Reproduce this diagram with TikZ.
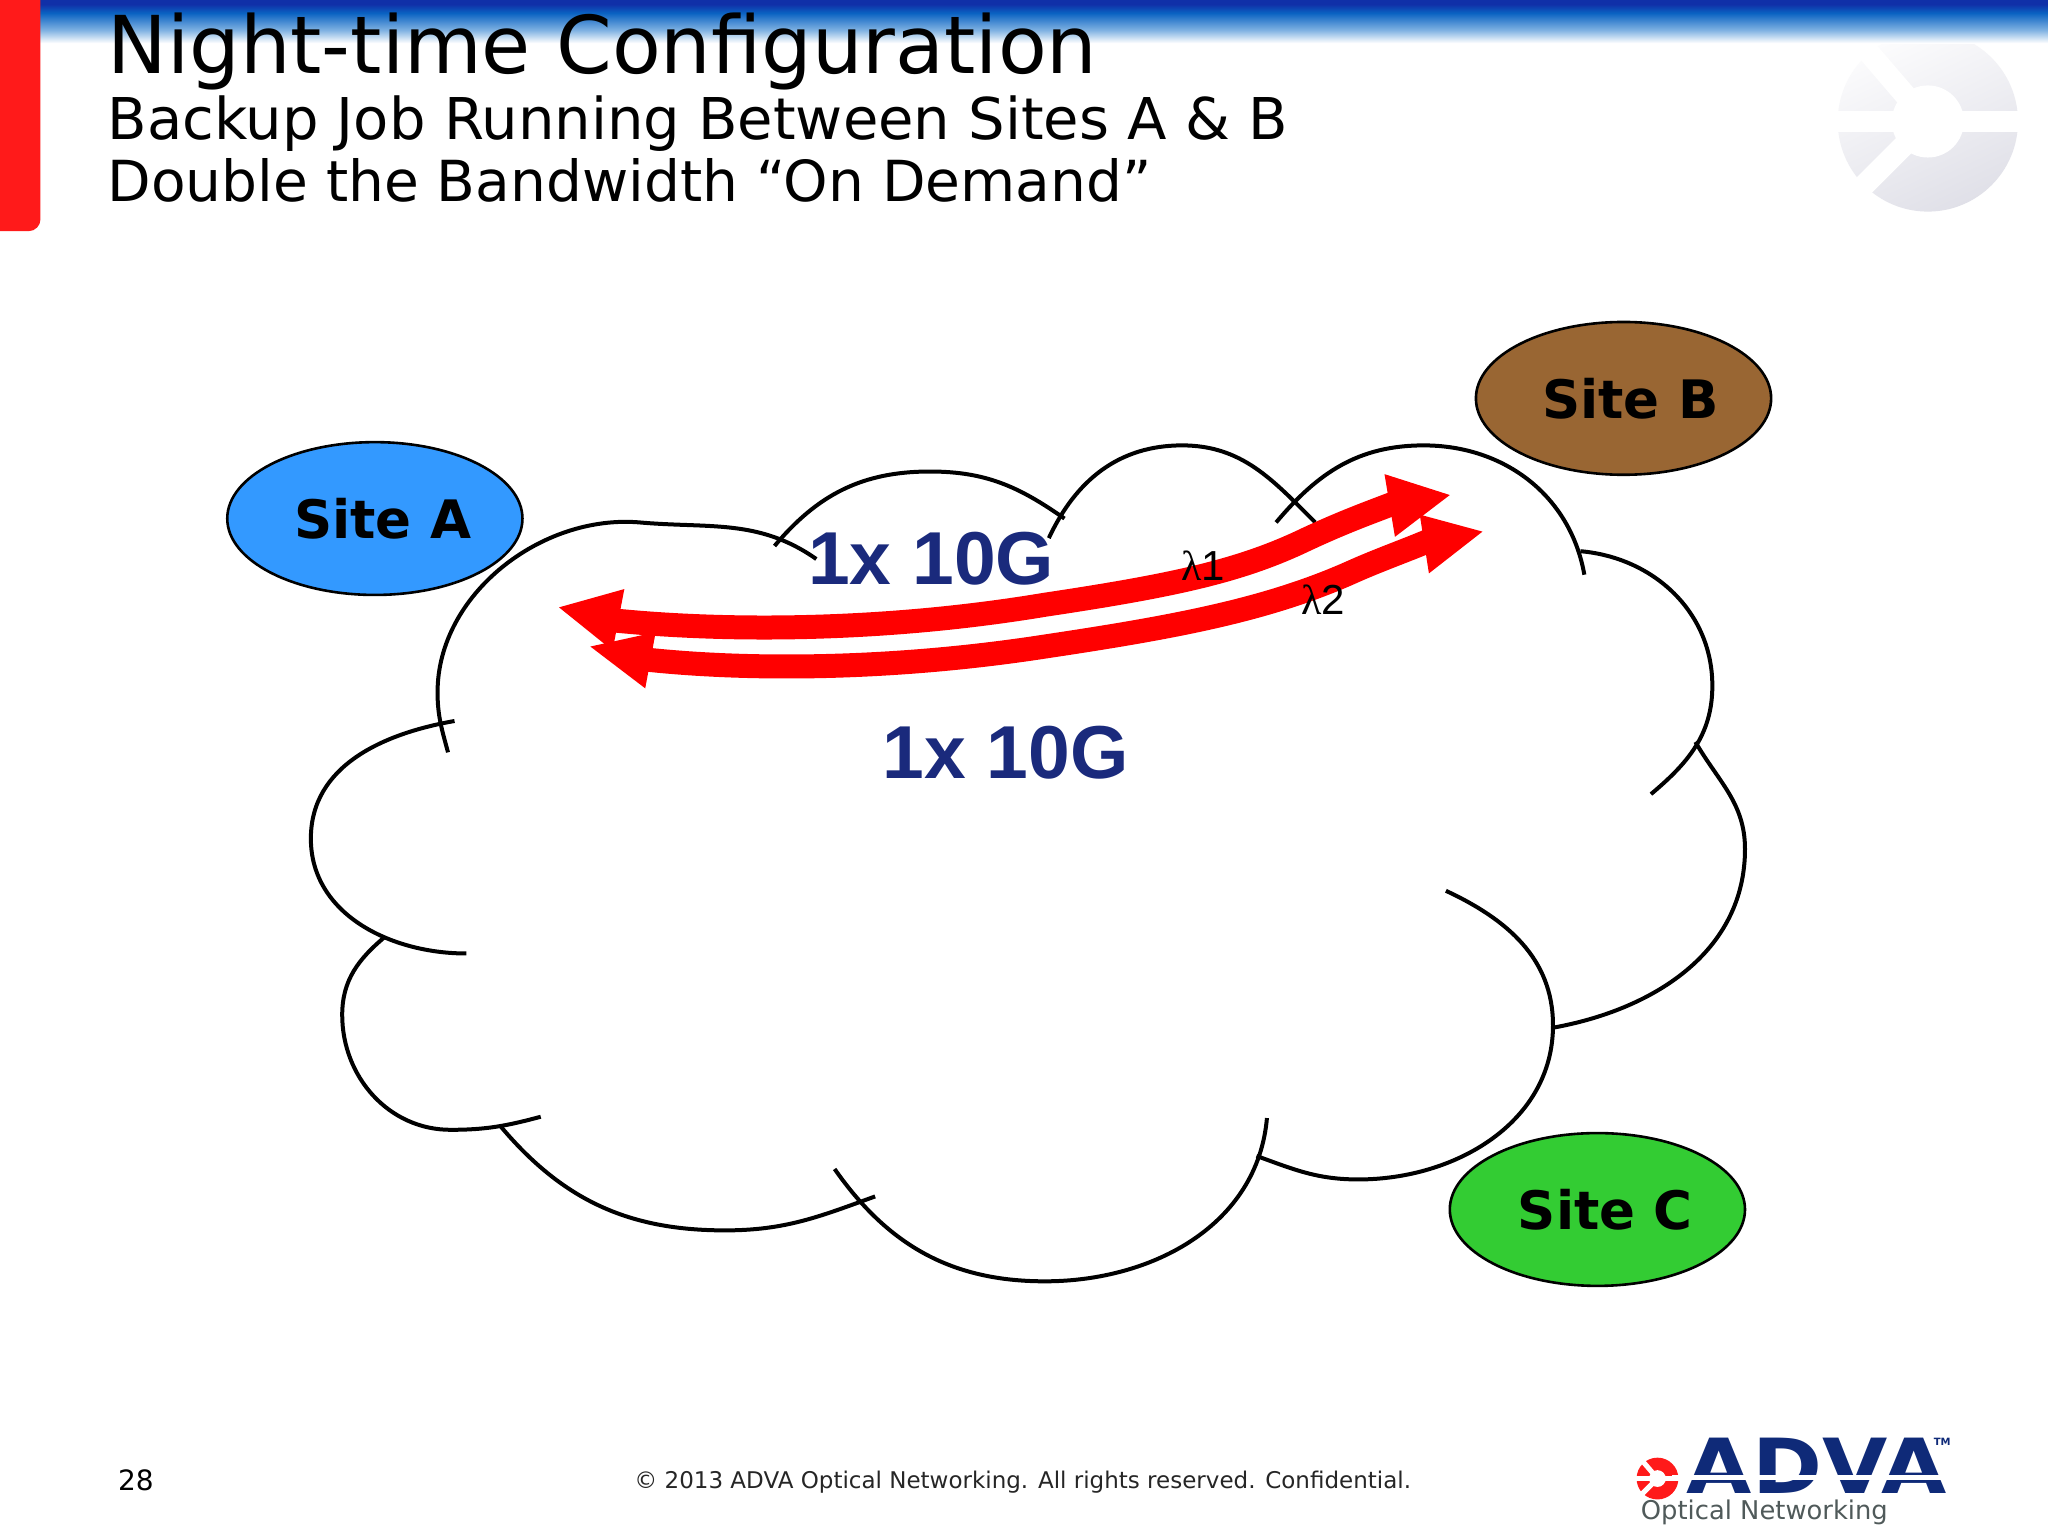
\documentclass[tikz,border=0pt]{standalone}
\usepackage{fontspec}
\setmainfont{DejaVu Sans}
\newfontfamily\lib{Liberation Sans}
\newfontfamily\libs{Liberation Serif}
\usetikzlibrary{shapes.geometric}
\definecolor{navy}{HTML}{1A2A7C}
\definecolor{logonavy}{HTML}{0F2A78}
\definecolor{tabred}{HTML}{FF1A1A}
\definecolor{siteA}{HTML}{3399FF}
\definecolor{siteB}{HTML}{996633}
\definecolor{siteC}{HTML}{33CC33}
\definecolor{bandA}{HTML}{1030A8}
\definecolor{bandB}{HTML}{0A62C2}
\definecolor{bandC}{HTML}{80B2E2}
\definecolor{wmarkA}{HTML}{FCFCFD}
\definecolor{wmarkB}{HTML}{E0E0E8}
\definecolor{optgray}{HTML}{505A5A}
\pgfdeclareverticalshading{bandshade}{100bp}{color(0bp)=(white); color(25bp)=(white); color(40bp)=(bandC); color(60bp)=(bandB); color(70bp)=(bandA); color(100bp)=(bandA)}
\tikzset{
  site/.style={ellipse,draw=black,line width=1.3pt,inner sep=0pt,minimum width=147.6pt,minimum height=76.4pt,font=\fontsize{26.5}{30}\selectfont\bfseries},
  cloud line/.style={draw=black,line width=2pt,line cap=butt},
  bigtext/.style={text=navy,font=\lib\fontsize{37.5}{40}\selectfont\bfseries,inner sep=0pt},
  shaft/.style={draw=red,line width=12pt},
  head/.style={fill=red},
  lambda/.style={inner sep=0pt,font=\fontsize{21}{23}\selectfont},
  titletext/.style={anchor=base west,inner sep=0pt,text=black},
}
\newcommand{\advaring}[4]{%
  \begin{scope}[shift={(#1,#2)},scale=#3]
    \path[#4] (0,0) circle (1);
    \draw[white,line width={#3*0.157pt}] (-1.05,0) -- (1.05,0);
    \draw[white,line width={#3*0.157pt}] (0,0) -- (-0.72,-0.84);
    \draw[white,line width={#3*0.157pt}] (0,0) -- (-0.82,0.82);
    \fill[white] (0,0) circle (0.40);
  \end{scope}}
\begin{document}
\begin{tikzpicture}[x=0.65306pt,y=-0.65306pt]
\useasboundingbox (0,0) rectangle (1568,1176);
\fill[white] (0,0) rectangle (1568,1176);
\advaring{1476}{93}{69}{shade,top color=wmarkA,bottom color=wmarkB,shading angle=25}
\shade[shading=bandshade] (0,0) rectangle (1568,33);
\fill[tabred,rounded corners=6pt] (-20,-20) rectangle (31,177);

\node[titletext,font=\fontsize{39.9}{42}\selectfont] (title) at (82,56.5) {Night-time Configuration};
\node[titletext,font=\fontsize{28.8}{30}\selectfont] (sub1) at (82,107) {Backup Job Running Between Sites A \& B};
\node[titletext,font=\fontsize{28.3}{30}\selectfont] (sub2) at (82,154) {Double the Bandwidth “On Demand”};

% cloud
\draw[cloud line] (343,576) to[out=105,in=270] (335,530) to[out=90,in=175,looseness=0.95] (490,400) to[out=-5,in=145] (625,428);
\draw[cloud line] (593,418) to[out=50,in=180] (712,361) to[out=0,in=145] (815,397);
\draw[cloud line] (803,412) to[out=65,in=180] (905,341) to[out=0,in=135] (1007,400);
\draw[cloud line] (977,400) to[out=50,in=180] (1090,341) to[out=0,in=100] (1213,440);
\draw[cloud line] (1210,422) to[out=-5,in=90] (1311,525) to[out=270,in=40] (1264,608);
\draw[cloud line] (1298,568) to[out=-60,in=90] (1336,650) to[out=270,in=10] (1188,787);
\draw[cloud line] (1107,682) to[out=-25,in=90] (1189,785) to[out=270,in=0] (1040,903) to[out=180,in=-20] (962,885);
\draw[cloud line] (970,856) to[out=265,in=0] (800,981) to[out=180,in=-55] (639,895);
\draw[cloud line] (670,916) to[out=200,in=0] (555,942) to[out=180,in=-50] (383,862);
\draw[cloud line] (414,855) to[out=195,in=0] (345,865) to[out=180,in=270] (262,777) to[out=90,in=220] (295,717);
\draw[cloud line] (357,730) to[out=180,in=270] (238,642) to[out=90,in=190] (348,552);

% sites
\node[site,fill=siteA] (siteA) at (287,397) {\hspace*{8pt}\raisebox{-0.7pt}{Site A}};
\node[site,fill=siteB] (siteB) at (1243,305) {\hspace*{7pt}\raisebox{-0.7pt}{Site B}};
\node[site,fill=siteC] (siteC) at (1223,926) {\hspace*{8pt}\raisebox{-0.7pt}{Site C}};

% wavelengths
\draw[shaft] (470,475) .. controls (560,484) and (680,483) .. (800,463) .. controls (900,448) and (950,437) .. (1000,413) .. controls (1030,399) and (1050,392) .. (1068,385);
\fill[head] (428,465) -- (478,451) -- (469,498) -- cycle;
\fill[head] (1110,379) -- (1060,363) -- (1068,411) -- cycle;
\draw[shaft] (495,505) .. controls (580,514) and (690,512) .. (800,495) .. controls (900,480) and (970,467) .. (1035,438) .. controls (1055,429) and (1075,422) .. (1094,414);
\fill[head] (452,495) -- (502,484) -- (494,527) -- cycle;
\fill[head] (1135,407) -- (1087,394) -- (1094,439) -- cycle;

\node[bigtext] (capA) at (713,428) {1x 10G};
\node[bigtext] (capB) at (770,576) {1x 10G};
\node[lambda] (l1) at (921,433) {{\libs λ}{\lib 1}};
\node[lambda] (l2) at (1013,459) {{\libs λ}{\lib 2}};

% footer
\node[inner sep=0pt,font=\fontsize{14}{16}\selectfont] (page) at (104,1133) {28};
\node[inner sep=0pt,font=\fontsize{11.5}{14}\selectfont,text=black!85] (copy) at (783,1135) {© 2013 ADVA Optical Networking. All rights reserved. Confidential.};

% logo
\advaring{1269}{1132}{16}{fill=tabred}
\node[inner sep=0pt,text=logonavy,font=\fontsize{38}{38}\selectfont\bfseries] (adva) at (1391,1122) {\scalebox{1.11}[1]{ADVA}};
\fill[white] (1280,1129.5) rectangle (1500,1133);
\node[inner sep=0pt,text=logonavy,font=\fontsize{5}{6}\selectfont\bfseries] (tm) at (1487,1104) {TM};
\node[inner sep=0pt,anchor=base west,text=optgray,font=\fontsize{12.9}{13}\selectfont] (optical) at (1256,1163.5) {Optical Networking};
\end{tikzpicture}
\end{document}
